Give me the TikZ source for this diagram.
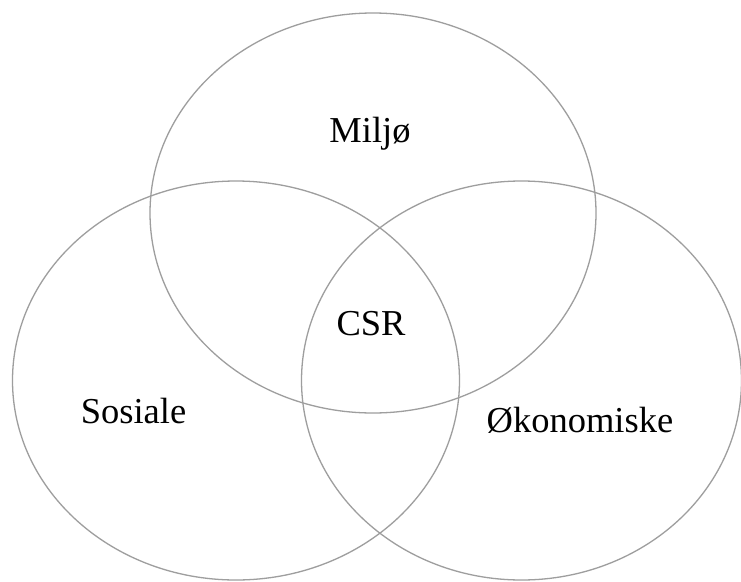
\documentclass[tikz,border=0pt]{standalone}
\usepackage{fontspec}
\setmainfont{Liberation Serif}
\usetikzlibrary{shapes.geometric}
\definecolor{ringgray}{RGB}{158,158,158}
\tikzset{
  ring/.style={draw=ringgray, line width=1.3pt, ellipse, inner sep=0pt, fill=none},
  lbl/.style={font=\fontsize{36.5}{40}\selectfont, anchor=base, inner sep=0pt, text=black}
}
\begin{document}
\begin{tikzpicture}[x=1pt, y=-1pt]
\useasboundingbox (0,0) rectangle (741,581);
\fill[white] (0,0) rectangle (741,581);
\node[ring, minimum width=446pt, minimum height=400pt] (miljoring) at (373,213) {};
\node[ring, minimum width=447pt, minimum height=399pt] (sosring) at (236,380.5) {};
\node[ring, minimum width=440pt, minimum height=399pt] (okoring) at (521.5,380.5) {};
\node[lbl] (miljo) at (370,142) {Miljø};
\node[lbl] (csr) at (371,335) {CSR};
\node[lbl] (sos) at (133.5,423) {Sosiale};
\node[lbl] (oko) at (580,432) {Økonomiske};
\end{tikzpicture}
\end{document}
